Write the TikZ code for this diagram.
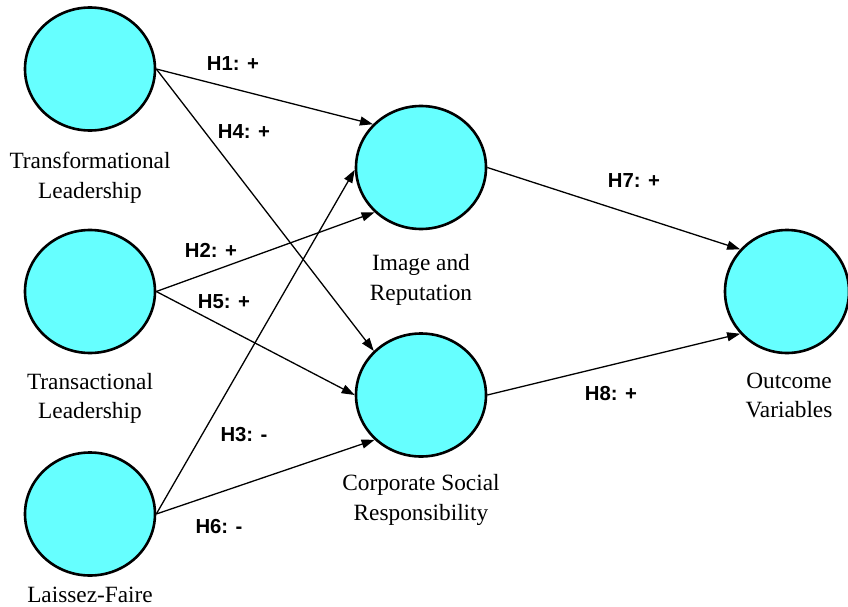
\documentclass[tikz,border=0pt]{standalone}
\usepackage{fontspec}
\setmainfont{Liberation Serif}
\newfontfamily\lblfont{Liberation Sans}
\usetikzlibrary{arrows.meta,shapes.geometric}
\definecolor{latcyan}{HTML}{66FFFF}
\begin{document}
\begin{tikzpicture}[x=1pt,y=-1pt,
  latent/.style={ellipse,draw=black,line width=2.6pt,fill=latcyan,minimum width=130pt,minimum height=123pt,inner sep=0pt},
  captxt/.style={align=center,font=\fontsize{23.3}{29.5}\selectfont,inner sep=0pt},
  hyp/.style={font=\lblfont\bfseries\fontsize{20.3}{22}\selectfont,inner sep=0pt},
  hpath/.style={line width=1.3pt,-{Triangle[length=13pt,width=9pt]}}]
\useasboundingbox (0,0) rectangle (848,607);
\node[latent] (tl) at (90,69) {};
\node[latent] (ta) at (90,291.5) {};
\node[latent] (lf) at (90,514) {};
\node[latent] (ir) at (421,167.5) {};
\node[latent] (csr) at (421,395) {};
\node[latent,minimum width=124pt] (out) at (787,291.5) {};
\node[captxt] (tlc) at (90,178) {Transformational\\Leadership};
\node[captxt] (tac) at (90,398.5) {Transactional\\Leadership};
\node[captxt] (lfc) at (90,594.5) {Laissez-Faire};
\node[captxt] (irc) at (421,280) {Image and\\Reputation};
\node[captxt] (csrc) at (421,500) {Corporate Social\\Responsibility};
\node[captxt] (outc) at (789,395.5) {Outcome\\Variables};
\draw[hpath] (tl.east) -- (ir.138);
\draw[hpath] (tl.east) -- (csr.137);
\draw[hpath] (ta.east) -- (ir.224);
\draw[hpath] (ta.east) -- (csr.180);
\draw[hpath] (lf.east) -- (ir.182);
\draw[hpath] (lf.east) -- (csr.224);
\draw[hpath] (ir.east) -- (out.138);
\draw[hpath] (csr.east) -- (out.222);
\node[hyp] (h1) at (233,64) {H1: +};
\node[hyp] (h4) at (244,132) {H4: +};
\node[hyp] (h2) at (211,250) {H2: +};
\node[hyp] (h5) at (224,302) {H5: +};
\node[hyp] (h3) at (244,435) {H3: -};
\node[hyp] (h6) at (219,527) {H6: -};
\node[hyp] (h7) at (634,181) {H7: +};
\node[hyp] (h8) at (611,394) {H8: +};
\end{tikzpicture}
\end{document}
